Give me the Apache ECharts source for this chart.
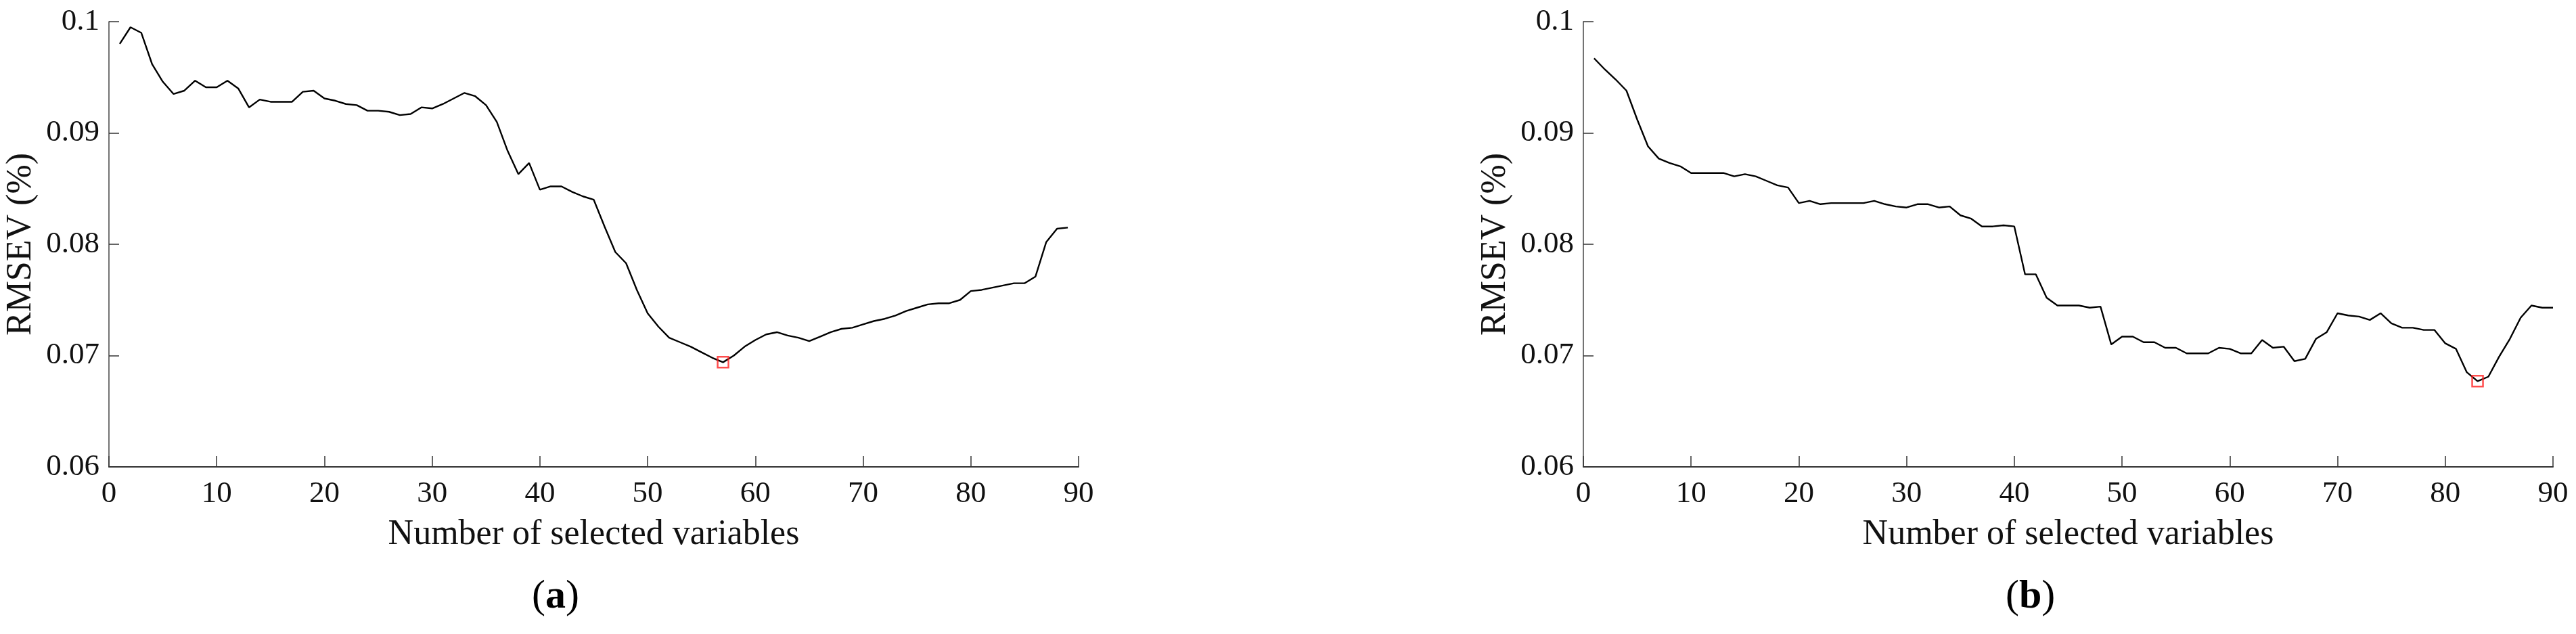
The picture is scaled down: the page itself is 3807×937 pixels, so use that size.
<!DOCTYPE html>
<html>
<head>
<meta charset="utf-8">
<script src="https://cdn.jsdelivr.net/npm/echarts@6/dist/echarts.min.js"></script>
<style>
  html, body { margin: 0; padding: 0; background: #fff; }
  #main { width: 3807px; height: 937px; }
</style>
</head>
<body>
<div id="main"></div>
<script>
// RMSEV for 1..89 selected variables, panel (a)
var rmsevA = [
  0.0980, 0.0995, 0.0990, 0.0962, 0.0946, 0.0935, 0.0938, 0.0947, 0.0941, 0.0941,
  0.0947, 0.0940, 0.0923, 0.0930, 0.0928, 0.0928, 0.0928, 0.0937, 0.0938, 0.0931,
  0.0929, 0.0926, 0.0925, 0.0920, 0.0920, 0.0919, 0.0916, 0.0917, 0.0923, 0.0922,
  0.0926, 0.0931, 0.0936, 0.0933, 0.0925, 0.0910, 0.0884, 0.0863, 0.0873, 0.0849,
  0.0852, 0.0852, 0.0847, 0.0843, 0.0840, 0.0816, 0.0793, 0.0783, 0.0759, 0.0738,
  0.0726, 0.0716, 0.0712, 0.0708, 0.0703, 0.0698, 0.0694, 0.0700, 0.0708, 0.0714,
  0.0719, 0.0721, 0.0718, 0.0716, 0.0713, 0.0717, 0.0721, 0.0724, 0.0725, 0.0728,
  0.0731, 0.0733, 0.0736, 0.0740, 0.0743, 0.0746, 0.0747, 0.0747, 0.0750, 0.0758,
  0.0759, 0.0761, 0.0763, 0.0765, 0.0765, 0.0771, 0.0802, 0.0814, 0.0815
];
// RMSEV for 1..90 selected variables, panel (b)
var rmsevB = [
  0.0967, 0.0957, 0.0948, 0.0938, 0.0912, 0.0888, 0.0877, 0.0873, 0.0870, 0.0864,
  0.0864, 0.0864, 0.0864, 0.0861, 0.0863, 0.0861, 0.0857, 0.0853, 0.0851, 0.0837,
  0.0839, 0.0836, 0.0837, 0.0837, 0.0837, 0.0837, 0.0839, 0.0836, 0.0834, 0.0833,
  0.0836, 0.0836, 0.0833, 0.0834, 0.0826, 0.0823, 0.0816, 0.0816, 0.0817, 0.0816,
  0.0773, 0.0773, 0.0752, 0.0745, 0.0745, 0.0745, 0.0743, 0.0744, 0.0710, 0.0717,
  0.0717, 0.0712, 0.0712, 0.0707, 0.0707, 0.0702, 0.0702, 0.0702, 0.0707, 0.0706,
  0.0702, 0.0702, 0.0714, 0.0707, 0.0708, 0.0695, 0.0697, 0.0715, 0.0721, 0.0738,
  0.0736, 0.0735, 0.0732, 0.0738, 0.0729, 0.0725, 0.0725, 0.0723, 0.0723, 0.0711,
  0.0706, 0.0685, 0.0677, 0.0681, 0.0699, 0.0715, 0.0734, 0.0745, 0.0743, 0.0743
];
var xTicks = [0, 10, 20, 30, 40, 50, 60, 70, 80, 90];
var yTicks = [0.06, 0.07, 0.08, 0.09, 0.1];
var panelLabels = ["a", "b"];

var FONT = '"Liberation Serif", "Times New Roman", serif';

function toPoints(arr) {
  return arr.map(function (v, i) { return [i + 1, v]; });
}
function minPoint(arr) {
  var k = 0;
  arr.forEach(function (v, i) { if (v < arr[k]) k = i; });
  return [[k + 1, arr[k]]];
}

function xAxisOf(idx) {
  return {
    type: "value",
    gridIndex: idx,
    min: xTicks[0],
    max: xTicks[xTicks.length - 1],
    interval: 10,
    name: "Number of selected variables",
    nameLocation: "middle",
    nameGap: 74,
    nameTextStyle: { fontFamily: FONT, fontSize: 52, color: "#111" },
    axisLine: { show: true, onZero: false, lineStyle: { color: "#333", width: 2 } },
    axisTick: { show: true, inside: true, length: 16, lineStyle: { color: "#333", width: 1.5 } },
    axisLabel: { fontFamily: FONT, fontSize: 45, color: "#111", margin: 18 },
    splitLine: { show: false }
  };
}
function yAxisOf(idx) {
  return {
    type: "value",
    gridIndex: idx,
    min: yTicks[0],
    max: yTicks[yTicks.length - 1],
    interval: 0.01,
    name: "RMSEV (%)",
    nameLocation: "middle",
    nameGap: 104,
    nameTextStyle: { fontFamily: FONT, fontSize: 52, color: "#111" },
    axisLine: { show: true, lineStyle: { color: "#444", width: 1.5 } },
    axisTick: { show: true, inside: true, length: 15, lineStyle: { color: "#333", width: 1.5 } },
    axisLabel: {
      fontFamily: FONT, fontSize: 45, color: "#111", margin: 14,
      formatter: function (v) { return String(Math.round(v * 100) / 100); }
    },
    splitLine: { show: false }
  };
}
function lineOf(idx, arr) {
  return {
    type: "line",
    xAxisIndex: idx,
    yAxisIndex: idx,
    data: toPoints(arr),
    showSymbol: false,
    symbol: "none",
    lineStyle: { color: "#000", width: 2.4 },
    animation: false
  };
}
function minOf(idx, arr) {
  return {
    type: "scatter",
    xAxisIndex: idx,
    yAxisIndex: idx,
    data: minPoint(arr),
    symbol: "rect",
    symbolSize: 16,
    itemStyle: { color: "rgba(0,0,0,0)", borderColor: "#ff2020", borderWidth: 2.5 },
    z: 5,
    animation: false
  };
}
function panelText(x, letter) {
  return {
    type: "text",
    left: x,
    top: 852,
    style: {
      text: "{p|(}{b|" + letter + "}{p|)}",
      rich: {
        p: { fontFamily: FONT, fontSize: 60, fill: "#000" },
        b: { fontFamily: FONT, fontSize: 60, fontWeight: "bold", fill: "#000" }
      }
    }
  };
}

var myChart = echarts.init(document.getElementById("main"));
var option = {
  backgroundColor: "#fff",
  animation: false,
  grid: [
    { left: 161, top: 32, width: 1433, height: 658 },
    { left: 2340, top: 32, width: 1433, height: 658 }
  ],
  xAxis: [xAxisOf(0), xAxisOf(1)],
  yAxis: [yAxisOf(0), yAxisOf(1)],
  series: [lineOf(0, rmsevA), minOf(0, rmsevA), lineOf(1, rmsevB), minOf(1, rmsevB)],
  graphic: [panelText(786, panelLabels[0]), panelText(2964, panelLabels[1])]
};
myChart.setOption(option);
</script>
</body>
</html>
